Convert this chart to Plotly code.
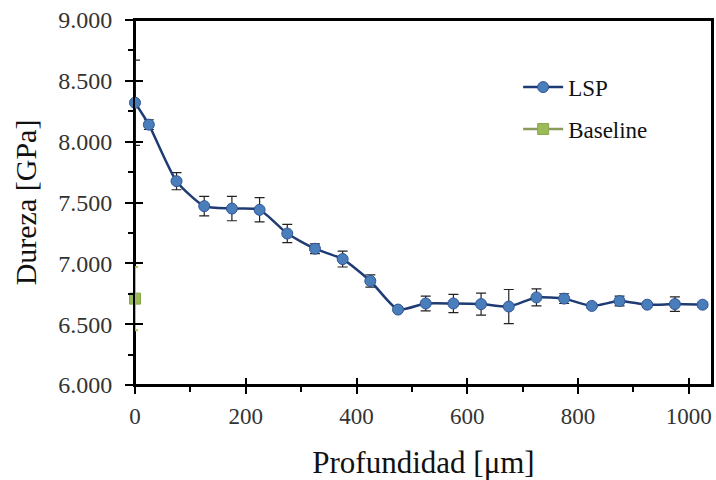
import plotly.graph_objects as go

# Data
depth_um = [0, 25, 75, 125, 175, 225, 275, 325, 375, 425, 475, 525, 575, 625,
            675, 725, 775, 825, 875, 925, 975, 1025]
lsp_hardness = [8.32, 8.14, 7.675, 7.47, 7.45, 7.44, 7.245, 7.12, 7.035, 6.855,
                6.62, 6.67, 6.67, 6.665, 6.645, 6.72, 6.71, 6.65, 6.69, 6.66,
                6.665, 6.66]
lsp_error = [0.35, 0.04, 0.07, 0.08, 0.10, 0.10, 0.075, 0.04, 0.065, 0.05,
             0.02, 0.06, 0.075, 0.09, 0.14, 0.07, 0.04, 0.02, 0.04, 0.02,
             0.06, 0.02]
baseline_depth = [0]
baseline_hardness = [6.71]
baseline_error = [0.26]

y_ticks = [6.0, 6.5, 7.0, 7.5, 8.0, 8.5, 9.0]
x_ticks = [0, 200, 400, 600, 800, 1000]
X_RANGE = [0, 1042]
Y_RANGE = [6, 9]

FONT = "'Liberation Serif', 'Times New Roman', Times, serif"

fig = go.Figure()

fig.add_trace(go.Scatter(
    x=depth_um, y=lsp_hardness, name="LSP", mode="lines+markers",
    legendgroup="a",
    line=dict(color="#1f3b73", width=2.5, shape="spline", smoothing=0.6),
    marker=dict(symbol="circle", size=11, color="#4a7ebb",
                line=dict(color="#2f5597", width=1)),
    error_y=dict(type="data", array=lsp_error, visible=True,
                 color="#222222", thickness=1.2, width=5),
    cliponaxis=False,
))

fig.add_trace(go.Scatter(
    x=baseline_depth, y=baseline_hardness, name="Baseline", mode="lines+markers",
    legendgroup="b",
    line=dict(color="#8a9a5b", width=2.5),
    marker=dict(symbol="square", size=11, color="#9bbb59",
                line=dict(color="#8aa84a", width=1)),
    error_y=dict(type="data", array=baseline_error, visible=True,
                 color="#a8c83c", thickness=2, width=3),
    cliponaxis=False,
))

# invisible trace on overlay axes to draw the inner half of the major ticks
fig.add_trace(go.Scatter(x=[0], y=[6], xaxis="x2", yaxis="y2",
                         mode="markers", marker=dict(opacity=0),
                         showlegend=False, hoverinfo="skip"))

fig.update_layout(
    width=716, height=480,
    margin=dict(l=135, r=4, t=20, b=95, autoexpand=False),
    paper_bgcolor="white", plot_bgcolor="white",
    font=dict(family=FONT, color="#222222", size=22),
    showlegend=True,
    legend=dict(x=0.664, y=0.875, xanchor="left", yanchor="top",
                bgcolor="rgba(0,0,0,0)", font=dict(family=FONT, size=23, color="#111111"),
                tracegroupgap=9, traceorder="grouped", itemwidth=40),
    xaxis=dict(
        range=X_RANGE, tickvals=x_ticks, ticktext=[str(v) for v in x_ticks],
        showgrid=False, zeroline=False,
        showline=True, linecolor="black", linewidth=2, mirror=True,
        ticks="outside", ticklen=7, tickwidth=2, tickcolor="black",
        minor=dict(dtick=100, ticks="outside", ticklen=5, tickwidth=2, tickcolor="black"),
        tickfont=dict(family=FONT, size=23, color="#333333"),
        ticklabelstandoff=2, ticklabeloverflow="allow",
        title=dict(text="Profundidad [μm]", font=dict(family=FONT, size=31, color="#111111"),
                   standoff=29),
    ),
    yaxis=dict(
        range=Y_RANGE, tickvals=y_ticks, tickformat=".3f",
        showgrid=False, zeroline=False,
        showline=True, linecolor="black", linewidth=2, mirror=True,
        ticks="outside", ticklen=8, tickwidth=2, tickcolor="black",
        minor=dict(dtick=0.25, ticks="outside", ticklen=5, tickwidth=2, tickcolor="black"),
        tickfont=dict(family=FONT, size=24, color="#333333"),
        ticklabelstandoff=8, ticklabeloverflow="allow",
        title=dict(text="Dureza [GPa]", font=dict(family=FONT, size=30, color="#111111"),
                   standoff=13),
    ),
    xaxis2=dict(overlaying="x", anchor="y", side="bottom", range=X_RANGE,
                tickvals=x_ticks, showticklabels=False, ticks="inside", ticklen=7,
                tickwidth=2, tickcolor="black", showgrid=False, zeroline=False,
                showline=False, visible=True),
    yaxis2=dict(overlaying="y", anchor="x", side="left", range=Y_RANGE,
                tickvals=y_ticks, showticklabels=False, ticks="inside", ticklen=8,
                tickwidth=2, tickcolor="black", showgrid=False, zeroline=False,
                showline=False, visible=True),
    shapes=[dict(type="rect", xref="paper", yref="paper", x0=0, x1=1, y0=0, y1=1,
                 line=dict(color="black", width=2), fillcolor="rgba(0,0,0,0)",
                 layer="below")],
)

fig.write_html(
    "out.html",
    config={"displayModeBar": False},
    post_script="document.body.style.margin='0';document.body.style.overflow='hidden';",
)
